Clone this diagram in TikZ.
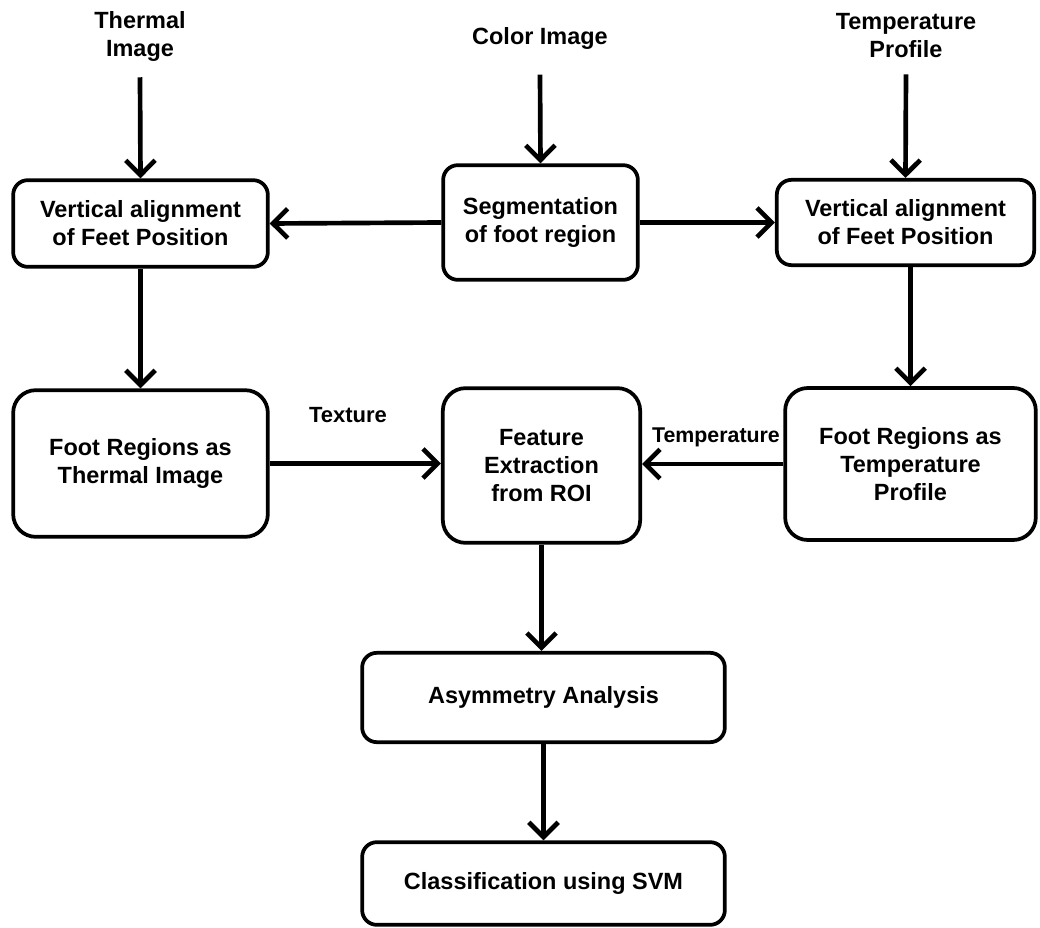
\documentclass[tikz,border=0pt]{standalone}
\usepackage{fontspec}
\setmainfont{Liberation Sans}
\usetikzlibrary{arrows.meta}
\begin{document}
\begin{tikzpicture}[x=0.75pt,y=-0.75pt,
  font=\fontsize{17.6}{21}\selectfont\bfseries,
  box/.style={draw,line width=2.8pt,rounded corners=11pt,align=center,inner sep=1pt},
  bigbox/.style={box,rounded corners=17pt},
  lbl/.style={align=center,inner sep=1pt},
  conn/.style={line width=3.5pt,-{Straight Barb[length=11pt,width=22pt,line width=3.5pt]}},
]
\useasboundingbox (0,0) rectangle (1040,928);

% inputs
\node[lbl] (ti) at (140,36) {Thermal\\Image};
\node[lbl] (ci) at (540,38) {Color Image};
\node[lbl] (tp) at (906,36) {Temperature\\Profile};

% processing boxes
\node[box,minimum width=191pt,minimum height=65pt] (val) at (140.5,223.5) {Vertical alignment\\of Feet Position};
\node[box,minimum width=146pt,minimum height=86pt] (seg) at (540.5,222.5) {Segmentation\\of foot region};
\node[box,minimum width=193pt,minimum height=64pt] (var) at (905.5,222.5) {Vertical alignment\\of Feet Position};
\node[bigbox,minimum width=191pt,minimum height=110pt] (frl) at (140.5,463.5) {Foot Regions as\\Thermal Image};
\node[bigbox,minimum width=148pt,minimum height=116pt] (fe) at (541.5,465.5) {Feature\\Extraction\\from ROI};
\node[bigbox,minimum width=188pt,minimum height=114pt] (frr) at (910.5,464) {Foot Regions as\\Temperature\\Profile};
\node[box,minimum width=272pt,minimum height=67pt] (asy) at (543.5,697.5) {Asymmetry Analysis};
\node[box,minimum width=272pt,minimum height=62pt] (cls) at (543.5,883.5) {Classification using SVM};

% edge labels
\node[lbl,font=\fontsize{16.5}{20}\selectfont\bfseries] (tex) at (348,415) {Texture};
\node[lbl,font=\fontsize{16}{20}\selectfont\bfseries] (tmp) at (716,437) {Temperature};

% connectors
\draw[conn] ([yshift=-11pt]ti.south) -- (val.north);
\draw[conn] ([yshift=-18pt]ci.south) -- (seg.north);
\draw[conn] ([yshift=-11pt]tp.south) -- (var.north);
\draw[conn] (seg.west) -- (val.east);
\draw[conn] (seg.east) -- (var.east -| var.west);
\draw[conn] (val.south) -- (frl.north);
\draw[conn] (var.south -| frr.north) -- (frr.north);
\draw[conn] (frl.east) -- (frl.east -| fe.west);
\draw[conn] (frr.west) -- (frr.west -| fe.east);
\draw[conn] (fe.south) -- (asy.north -| fe.south);
\draw[conn] (asy.south) -- (cls.north);
\end{tikzpicture}
\end{document}
